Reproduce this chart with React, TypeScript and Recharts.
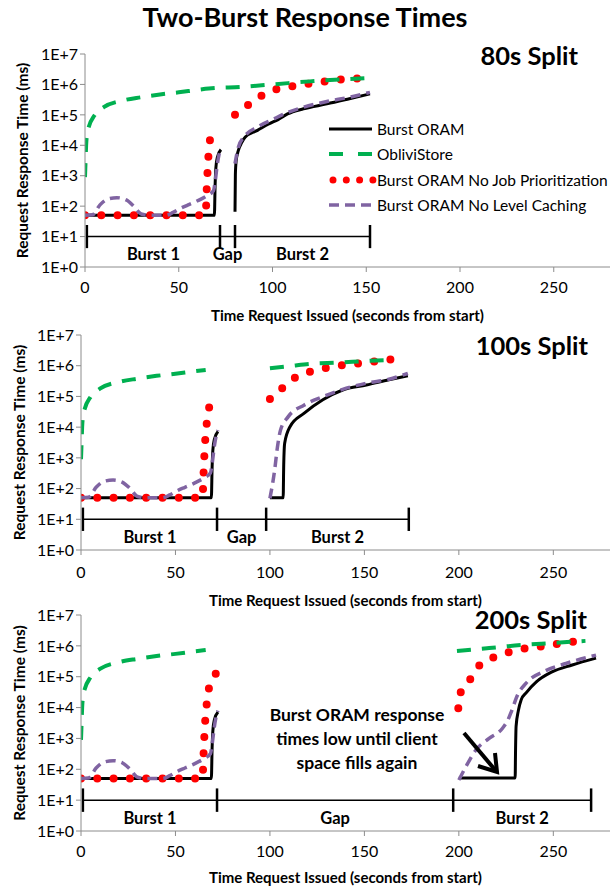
import React from 'react';
import { LineChart, Line, XAxis, YAxis, ReferenceLine, ReferenceDot, Legend } from 'recharts';

const FONT = 'Lato, "Open Sans", sans-serif';

type Row = [number, number | null];

const xTicks = [0, 50, 100, 150, 200, 250];
const yTicks = [1, 10, 100, 1e3, 1e4, 1e5, 1e6, 1e7];
const phaseNames = ['Burst 1', 'Gap', 'Burst 2'];

// first burst is (nearly) the same in every split
const black1st: Row[] = [[0, 50], [69, 50], [69.4, 500], [69.8, 1800], [70.6, 4000], [72.5, 7200]];
const green1st: Row[] = [
  [0, 900], [0.3, 3000], [0.6, 10000], [1.2, 25000], [2, 40000], [5, 95000], [10, 178000],
  [20, 295000], [30, 380000], [40, 468000], [50, 550000], [60, 660000], [66, 730000],
];
const red1st: Row[] = [
  [0, 50], [8, 50], [16, 50], [24, 50], [32, 50], [40, 50], [48, 50], [56, 50], [64.3, 50],
  [64.6, 100], [64.9, 340], [65.3, 1200], [65.8, 4200], [66.6, 14000],
];
const purple1st: Row[] = [
  [0, 50], [4, 52], [8, 110], [12, 170], [17, 190], [22, 160], [26, 100], [30, 55], [35, 50],
  [43, 50], [47, 62], [51, 85], [55, 110], [60, 150], [65, 220], [68.5, 320], [69.5, 700],
  [70.5, 2200], [71.5, 5000], [72.5, 8000],
];

// 80s split
const black80: Row[] = [
  ...black1st, [76, null], [80, 65], [80.2, 1100], [80.6, 3000], [81.8, 6800], [83.5, 12000],
  [85.5, 18600], [92, 31000], [98, 50000], [103, 70000], [108, 107000], [116.5, 158000],
  [129, 229000], [141, 339000], [152, 490000],
];
const green80: Row[] = [...green1st, [72, 780000], [80, 810000], [100, 1000000], [120, 1260000], [152, 1620000]];
const red80: Row[] = [
  ...red1st, [68.5, 45000], [75, null], [80, 100000], [86.5, 200000], [92.8, 380000], [100, 630000],
  [108, 810000], [116.6, 1000000], [125, 1170000], [133.5, 1400000], [142, 1500000], [152, 1700000],
];
const purple80: Row[] = [
  ...purple1st, [76, null], [80, 2500], [81.8, 8700], [85.5, 21000], [92, 40000], [100, 70000],
  [108, 120000], [116.5, 178000], [129, 275000], [141, 380000], [152, 550000],
];
const bounds80 = [1, 72, 80, 152];

// 100s split
const black100: Row[] = [
  ...black1st, [85, null], [100, 50], [107, 50], [107.3, 600], [107.8, 3000], [110.7, 10500],
  [118, 28000], [128, 78000], [138.5, 162000], [151, 234000], [163, 347000], [173, 470000],
];
const green100: Row[] = [
  ...green1st, [80, null], [100, 830000], [112, 1000000], [122, 1150000], [136, 1260000],
  [153, 1450000], [166, 1550000],
];
const red100: Row[] = [
  ...red1st, [68, 49000], [80, null], [100, 83000], [106, 174000], [112, 363000], [120, 600000],
  [128, 800000], [136.4, 1000000], [145, 1150000], [154, 1350000], [162, 1550000], [171, 1700000],
];
const purple100: Row[] = [
  ...purple1st, [85, null], [100, 48], [102.5, 400], [104, 2300], [105.6, 8000], [109.7, 22000],
  [118, 52000], [128, 98000], [138.5, 170000], [151, 270000], [163, 363000], [173, 560000],
];
const bounds100 = [1, 72, 98, 173.5];

// 200s split
const black200: Row[] = [
  ...black1st, [130, null], [200, 52], [229.8, 52], [230, 400], [230.3, 2500], [231.5, 8000],
  [233, 18000], [235.6, 30000], [241, 68000], [249, 140000], [260, 240000], [272.6, 400000],
];
const green200: Row[] = [
  ...green1st, [130, null], [199, 680000], [216, 850000], [233.5, 1070000], [249.3, 1230000], [267, 1450000],
];
const red200: Row[] = [
  ...red1st, [68, 50000], [72, 135000], [130, null], [199.7, 9500], [201, 31600], [206, 83000],
  [210, 204000], [217.6, 400000], [225, 590000], [233.5, 790000], [241.4, 910000], [250.4, 1120000],
  [258.8, 1320000], [267.3, 1510000],
];
const purple200: Row[] = [
  ...purple1st, [130, null], [200, 45], [204, 130], [209, 420], [216, 1000], [223, 2100], [226, 4000],
  [228, 8000], [231, 25000], [235.6, 62000], [246, 158000], [256.7, 270000], [272.6, 500000],
];
const bounds200 = [1, 72, 197, 270];

const toPts = (rows: Row[]) => rows.map(([t, v]) => ({ t, v }));

const SERIES = [
  { name: 'Burst ORAM', stroke: '#000000', width: 3, dash: undefined as string | undefined, cap: 'butt' },
  { name: 'ObliviStore', stroke: '#00B050', width: 4, dash: '14 11', cap: 'butt' },
  { name: 'Burst ORAM No Job Prioritization', stroke: '#FF0000', width: 8, dash: '0 16.3', cap: 'round' },
  { name: 'Burst ORAM No Level Caching', stroke: '#8064A2', width: 3.5, dash: '10 6', cap: 'butt' },
];

function LegendBox() {
  return (
    <div style={{ fontFamily: FONT, fontSize: 15.5, color: '#000' }}>
      {SERIES.map((s) => (
        <div key={s.name} style={{ display: 'flex', alignItems: 'center', height: 25.5 }}>
          <svg width={48} height={12} style={{ marginRight: 0 }}>
            <line
              x1={s.cap === 'round' ? 4 : 0}
              x2={s.cap === 'round' ? 44 : 43}
              y1={6}
              y2={6}
              stroke={s.stroke}
              strokeWidth={s.cap === 'round' ? 7 : s.width}
              strokeDasharray={s.cap === 'round' ? '0 13.3' : s.name === 'ObliviStore' ? '14 15' : s.dash}
              strokeLinecap={s.cap as any}
            />
          </svg>
          <span>{s.name}</span>
        </div>
      ))}
    </div>
  );
}

interface PanelProps {
  top: number;
  height: number;
  marginTop: number;
  yWidth: number;
  xHeight: number;
  tickGap: number;
  titleOffset: number;
  yTitleX: number;
  series: Row[][];
  bounds: number[];
  legend?: boolean;
}

function Panel({ top, height, marginTop, yWidth, xHeight, tickGap, titleOffset, yTitleX, series, bounds, legend }: PanelProps) {
  const tickStyle = { fill: '#000', fontSize: 16, fontFamily: FONT };
  const mids = phaseNames.map((_, i) => (bounds[i] + bounds[i + 1]) / 2);
  return (
    <div style={{ position: 'absolute', left: 0, top }}>
      <LineChart width={610} height={height} margin={{ top: marginTop, right: 0, left: 0, bottom: 0 }}>
        <XAxis
          dataKey="t"
          type="number"
          domain={[0, 280]}
          ticks={xTicks}
          allowDataOverflow
          height={xHeight}
          tickSize={5}
          tickMargin={tickGap}
          stroke="#8c8c8c"
          tick={tickStyle}
          label={{
            value: 'Time Request Issued (seconds from start)',
            position: 'insideBottom',
            offset: titleOffset,
            style: { fontWeight: 700, fontSize: 15, fontFamily: FONT, fill: '#000' },
          }}
        />
        <YAxis
          type="number"
          scale="log"
          domain={[1, 1e7]}
          ticks={yTicks}
          allowDataOverflow
          width={yWidth}
          tickSize={5}
          stroke="#8c8c8c"
          tick={tickStyle}
          tickFormatter={(v: number) => `1E+${Math.round(Math.log10(v))}`}
          label={{
            value: 'Request Response Time (ms)',
            angle: -90,
            position: 'insideLeft',
            offset: yTitleX,
            style: { textAnchor: 'middle', fontWeight: 700, fontSize: 15.5, fontFamily: FONT, fill: '#000' },
          }}
        />
        <ReferenceLine
          segment={[{ x: bounds[0], y: 10 }, { x: bounds[3], y: 10 }]}
          stroke="#000"
          strokeWidth={1.5}
        />
        {bounds.map((b) => (
          <ReferenceLine
            key={`b-${b}`}
            segment={[{ x: b, y: Math.pow(10, 0.62) }, { x: b, y: Math.pow(10, 1.38) }]}
            stroke="#000"
            strokeWidth={2.5}
          />
        ))}
        {mids.map((m, i) => (
          <ReferenceDot
            key={`p-${i}`}
            x={m}
            y={Math.pow(10, 0.42)}
            r={0}
            fill="none"
            stroke="none"
            label={{ value: phaseNames[i], fill: '#000', fontSize: 16.5, fontWeight: 700, fontFamily: FONT }}
          />
        ))}
        {[0, 2, 3, 1].map((i) => {
          const s = SERIES[i];
          return (
            <Line
              key={s.name}
              name={s.name}
              data={toPts(series[i])}
              dataKey="v"
              type="monotone"
              stroke={s.stroke}
              strokeWidth={s.width}
              strokeDasharray={s.dash}
              strokeLinecap={s.cap as any}
              dot={false}
              activeDot={false}
              isAnimationActive={false}
            />
          );
        })}
        {legend && (
          <Legend
            layout="vertical"
            verticalAlign="middle"
            align="center"
            content={() => <LegendBox />}
            wrapperStyle={{ left: 329, top: 116, width: 280, height: 104 }}
          />
        )}
      </LineChart>
    </div>
  );
}

const splitStyle: React.CSSProperties = {
  position: 'absolute',
  fontFamily: FONT,
  fontWeight: 700,
  fontSize: 25.5,
  color: '#000',
  textAlign: 'right',
  lineHeight: '28px',
};

export default function App() {
  return (
    <div style={{ position: 'absolute', left: 0, top: 0, width: 610, height: 888, background: '#fff', overflow: 'hidden' }}>
      <Panel
        top={0}
        height={330}
        marginTop={54}
        yWidth={85}
        xHeight={63}
        tickGap={10}
        titleOffset={9}
        yTitleX={22}
        series={[black80, green80, red80, purple80]}
        bounds={bounds80}
        legend
      />
      <Panel
        top={300}
        height={310}
        marginTop={35}
        yWidth={81}
        xHeight={60}
        tickGap={12}
        titleOffset={4}
        yTitleX={19}
        series={[black100, green100, red100, purple100]}
        bounds={bounds100}
      />
      <Panel
        top={580}
        height={308}
        marginTop={35}
        yWidth={81}
        xHeight={57}
        tickGap={10}
        titleOffset={5}
        yTitleX={19}
        series={[black200, green200, red200, purple200]}
        bounds={bounds200}
      />
      <div
        style={{
          position: 'absolute', left: 0, top: 2, width: 610, textAlign: 'center',
          fontFamily: FONT, fontWeight: 700, fontSize: 27, lineHeight: '30px', color: '#000',
        }}
      >
        Two-Burst Response Times
      </div>
      <div style={{ ...splitStyle, right: 32, top: 41 }}>80s Split</div>
      <div style={{ ...splitStyle, right: 22, top: 331 }}>100s Split</div>
      <div style={{ ...splitStyle, right: 23, top: 605 }}>200s Split</div>
      <div
        style={{
          position: 'absolute', left: 237, top: 703, width: 240, textAlign: 'center',
          fontFamily: FONT, fontWeight: 700, fontSize: 17.5, lineHeight: '24px', color: '#000',
        }}
      >
        Burst ORAM response
        <br />
        times low until client
        <br />
        space fills again
      </div>
      <svg width={610} height={888} style={{ position: 'absolute', left: 0, top: 0, pointerEvents: 'none' }}>
        <line x1={464} y1={733} x2={496} y2={771} stroke="#000" strokeWidth={4} />
        <polyline points="478,766 497,772 495,753" fill="none" stroke="#000" strokeWidth={4} />
      </svg>
    </div>
  );
}
